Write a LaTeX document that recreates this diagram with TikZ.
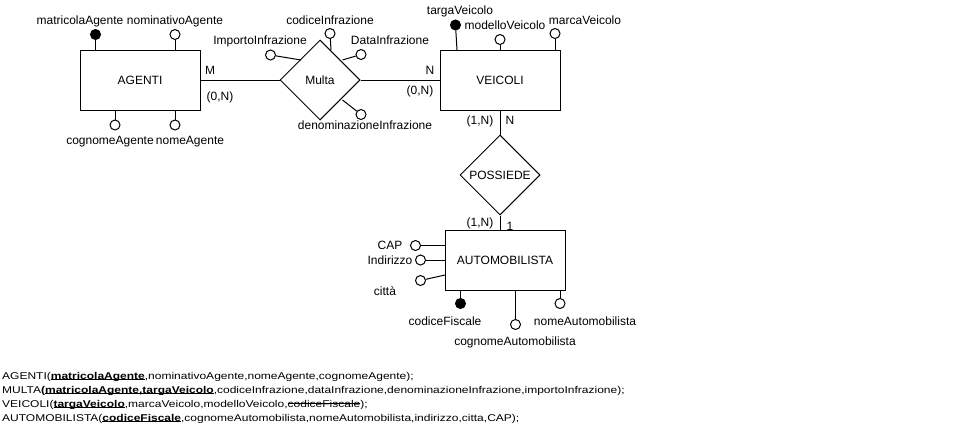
\documentclass[tikz,border=0pt]{standalone}
\usepackage{fontspec}
\setmainfont{Liberation Sans}
\usetikzlibrary{shapes.geometric}
\tikzset{
  ent/.style={draw, line width=1pt, minimum width=120pt, minimum height=60pt, inner sep=0pt},
  rel/.style={draw, diamond, aspect=1, line width=1pt, minimum width=80pt, minimum height=80pt, inner sep=0pt},
  attr/.style={draw, circle, line width=1pt, fill=white, minimum size=10pt, inner sep=0pt},
  key/.style={attr, fill=black},
  lbl/.style={anchor=base, inner sep=0pt},
  conn/.style={line width=1pt},
  schema/.style={anchor=base west, inner sep=0pt}
}
\newcommand\pk[1]{\setbox0\hbox{\textbf{#1}}\rlap{\rule[-1.6pt]{\wd0}{1.1pt}}\box0}
\newcommand\strk[1]{\setbox0\hbox{#1}\rlap{\rule[3.6pt]{\wd0}{0.9pt}}\box0}
\begin{document}
\begin{tikzpicture}[x=1pt,y=-1pt,font=\fontsize{12}{14}\selectfont]
\useasboundingbox (0,0) rectangle (962,442);
% entities
\node[ent] (ag) at (140,80) {AGENTI};
\node[ent] (ve) at (500,80) {VEICOLI};
\node[ent] (au) at (505,260) {AUTOMOBILISTA};
% relations
\node[rel] (mu) at (320,80) {Multa};
\node[rel] (po) at (500,175) {POSSIEDE};
% relation links
\draw[conn] (ag.east) -- (mu.west);
\draw[conn] (mu.east) -- (ve.west);
\draw[conn] (ve.south) -- (po.north);
\draw[conn] (po.south) -- (au.north -| po.south);
% cardinalities
\node[lbl] (c1) at (210,74) {M};
\node[lbl] (c2) at (220,100) {(0,N)};
\node[lbl] (c3) at (430,74) {N};
\node[lbl] (c4) at (420,94) {(0,N)};
\node[lbl] (c5) at (480,124) {(1,N)};
\node[lbl] (c6) at (510,124) {N};
\node[lbl] (c7) at (480,226) {(1,N)};
\node[lbl] (c8) at (510,230) {1};
% AGENTI attributes
\node[key] (a1) at (95.5,34.5) {};
\draw[conn] (a1) -- (a1 |- ag.north);
\node[lbl] (la1) at (80,24) {matricolaAgente};
\node[attr] (a2) at (175,34.5) {};
\draw[conn] (a2) -- (a2 |- ag.north);
\node[lbl] (la2) at (175,24) {nominativoAgente};
\node[attr] (a3) at (115,125) {};
\draw[conn] (a3) -- (a3 |- ag.south);
\node[lbl] (la3) at (110,144) {cognomeAgente};
\node[attr] (a4) at (175,125) {};
\draw[conn] (a4) -- (a4 |- ag.south);
\node[lbl] (la4) at (190,144) {nomeAgente};
% Multa attributes
\coordinate (m1) at (331,50);
\coordinate (m2) at (301,60);
\coordinate (m3) at (342.5,60);
\coordinate (m4) at (342.5,100);
\node[attr] (b1) at (330,33.5) {};
\draw[conn] (b1) -- (m1);
\node[lbl] (lb1) at (330,24) {codiceInfrazione};
\node[attr] (b2) at (270.5,55) {};
\draw[conn] (b2) -- (m2);
\node[lbl] (lb2) at (260,44) {ImportoInfrazione};
\node[attr] (b3) at (361,54.5) {};
\draw[conn] (b3) -- (m3);
\node[lbl] (lb3) at (390,44) {DataInfrazione};
\node[attr] (b4) at (361,114.5) {};
\draw[conn] (b4) -- (m4);
\node[lbl] (lb4) at (365,129) {denominazioneInfrazione};
% VEICOLI attributes
\coordinate (v1) at (457,50);
\node[key] (d1) at (455.5,25) {};
\draw[conn] (d1) -- (v1);
\node[lbl] (ld1) at (460,14) {targaVeicolo};
\node[attr] (d2) at (500,39.5) {};
\draw[conn] (d2) -- (d2 |- ve.north);
\node[lbl] (ld2) at (505,29) {modelloVeicolo};
\node[attr] (d3) at (555,33.5) {};
\draw[conn] (d3) -- (d3 |- ve.north);
\node[lbl] (ld3) at (585,24) {marcaVeicolo};
% AUTOMOBILISTA attributes
\coordinate (u3) at (445,275);
\node[attr] (e1) at (415.5,245.5) {};
\draw[conn] (e1) -- (e1 -| au.west);
\node[lbl] (le1) at (390,249.5) {CAP};
\node[attr] (e2) at (420.5,260) {};
\draw[conn] (e2) -- (e2 -| au.west);
\node[lbl] (le2) at (390,264) {Indirizzo};
\node[attr] (e3) at (420.5,280.5) {};
\draw[conn] (e3) -- (u3);
\node[lbl] (le3) at (385,295) {città};
\node[key] (e4) at (460.5,303.5) {};
\draw[conn] (e4) -- (e4 |- au.south);
\node[lbl] (le4) at (445,325) {codiceFiscale};
\node[attr] (e5) at (515.5,324.5) {};
\draw[conn] (e5) -- (e5 |- au.south);
\node[lbl] (le5) at (515,345) {cognomeAutomobilista};
\node[attr] (e6) at (560,303.5) {};
\draw[conn] (e6) -- (e6 |- au.south);
\node[lbl] (le6) at (585,325) {nomeAutomobilista};
% relational schema
\node[schema] (s1) at (2,379) {\scalebox{1}[0.82]{AGENTI(\pk{matricolaAgente},nominativoAgente,nomeAgente,cognomeAgente);}};
\node[schema] (s2) at (2,393) {\scalebox{1}[0.82]{MULTA\textbf{(}\pk{matricolaAgente,targaVeicolo},codiceInfrazione,dataInfrazione,denominazioneInfrazione,importoInfrazione);}};
\node[schema] (s3) at (2,407) {\scalebox{1}[0.82]{VEICOLI(\pk{targaVeicolo},marcaVeicolo,modelloVeicolo,\strk{codiceFiscale});}};
\node[schema] (s4) at (2,421) {\scalebox{1}[0.82]{AUTOMOBILISTA(\pk{codiceFiscale},cognomeAutomobilista,nomeAutomobilista,indirizzo,citta,CAP);}};
\end{tikzpicture}
\end{document}
